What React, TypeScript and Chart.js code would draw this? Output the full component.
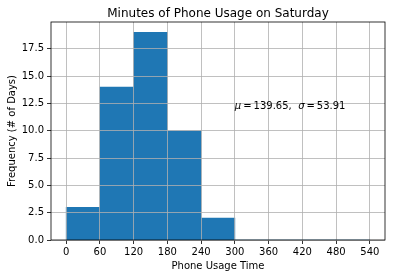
import React, { useEffect, useRef } from "react";
import { Chart, registerables } from "chart.js";
Chart.register(...registerables);

const binCenters = [30, 90, 150, 210, 270, 330, 390, 450, 510];
const frequencies = [3, 14, 19, 10, 2, 0, 0, 0, 0];
const xTicks = [0, 60, 120, 180, 240, 300, 360, 420, 480, 540];
const yTicks = [0, 2.5, 5, 7.5, 10, 12.5, 15, 17.5];
const titleText = "Minutes of Phone Usage on Saturday";
const xLabel = "Phone Usage Time";
const yLabel = "Frequency (# of Days)";
const meanValue = 139.65;
const sdValue = 53.91;
const annotX = 300;
const annotY = 12;

const FONT = "'DejaVu Sans', sans-serif";

export default function App() {
  const ref = useRef<HTMLCanvasElement>(null);
  useEffect(() => {
    const overlay = {
      id: "overlay",
      afterDraw(chart: any) {
        const { ctx, chartArea } = chart;
        const xs = chart.scales.x;
        const ys = chart.scales.y;
        ctx.save();
        // frame
        ctx.strokeStyle = "#000";
        ctx.lineWidth = 0.8;
        ctx.strokeRect(chartArea.left, chartArea.top, chartArea.right - chartArea.left, chartArea.bottom - chartArea.top);
        // title
        ctx.fillStyle = "#000";
        ctx.font = `12px ${FONT}`;
        ctx.textAlign = "center";
        ctx.textBaseline = "alphabetic";
        ctx.fillText(titleText, (chartArea.left + chartArea.right) / 2, 17);
        // annotation
        let px = xs.getPixelForValue(annotX);
        const py = ys.getPixelForValue(annotY);
        ctx.textAlign = "left";
        const parts: [string, boolean][] = [
          ["\u03bc", true],
          ["\u2009=\u2009" + meanValue.toFixed(2) + ",  ", false],
          ["\u03c3", true],
          ["\u2009=\u2009" + sdValue.toFixed(2), false],
        ];
        for (const [t, it] of parts) {
          ctx.font = `${it ? "italic " : ""}10px ${FONT}`;
          ctx.fillText(t, px, py);
          px += ctx.measureText(t).width;
        }
        ctx.restore();
      },
    };
    const chart = new Chart(ref.current!, {
      type: "bar",
      data: {
        datasets: [
          {
            data: binCenters.map((x, i) => ({ x, y: frequencies[i] })),
            backgroundColor: "#1f77b4",
            borderWidth: 0,
            barPercentage: 1,
            categoryPercentage: 1,
          },
        ],
      },
      options: {
        animation: false,
        responsive: false,
        layout: { padding: { top: 22, right: 11, left: 0, bottom: 0 } },
        plugins: { legend: { display: false }, tooltip: { enabled: false }, title: { display: false } },
        scales: {
          x: {
            type: "linear",
            min: -27,
            max: 567,
            offset: false,
            afterBuildTicks: (s: any) => {
              s.ticks = xTicks.map((v) => ({ value: v }));
            },
            afterFit: (s: any) => {
              s.height = 38;
            },
            grid: { z: 1, offset: false, color: "#b0b0b0", lineWidth: 0.8, tickLength: 4, tickColor: "#000", drawTicks: true },
            border: { display: false },
            ticks: { color: "#000", font: { family: FONT, size: 10 }, padding: 2, maxRotation: 0, autoSkip: false },
            title: { display: true, text: xLabel, color: "#000", font: { family: FONT, size: 10 }, padding: { top: 0, bottom: 6 } },
          },
          y: {
            type: "linear",
            min: 0,
            max: 19.95,
            afterBuildTicks: (s: any) => {
              s.ticks = yTicks.map((v) => ({ value: v }));
            },
            afterFit: (s: any) => {
              s.width = 51;
            },
            grid: { z: 1, offset: false, color: "#b0b0b0", lineWidth: 0.8, tickLength: 4, tickColor: "#000", drawTicks: true },
            border: { display: false },
            ticks: {
              color: "#000",
              font: { family: FONT, size: 10 },
              padding: 3,
              autoSkip: false,
              callback: (v: any) => Number(v).toFixed(1),
            },
            title: { display: true, text: yLabel, color: "#000", font: { family: FONT, size: 10 }, padding: { top: 6, bottom: 0 } },
          },
        },
      },
      plugins: [overlay],
    } as any);
    return () => chart.destroy();
  }, []);
  return (
    <div style={{ position: "fixed", left: 0, top: 0, width: 396, height: 278, background: "#fff" }}>
      <canvas ref={ref} width={396} height={278} style={{ width: 396, height: 278 }} />
    </div>
  );
}
